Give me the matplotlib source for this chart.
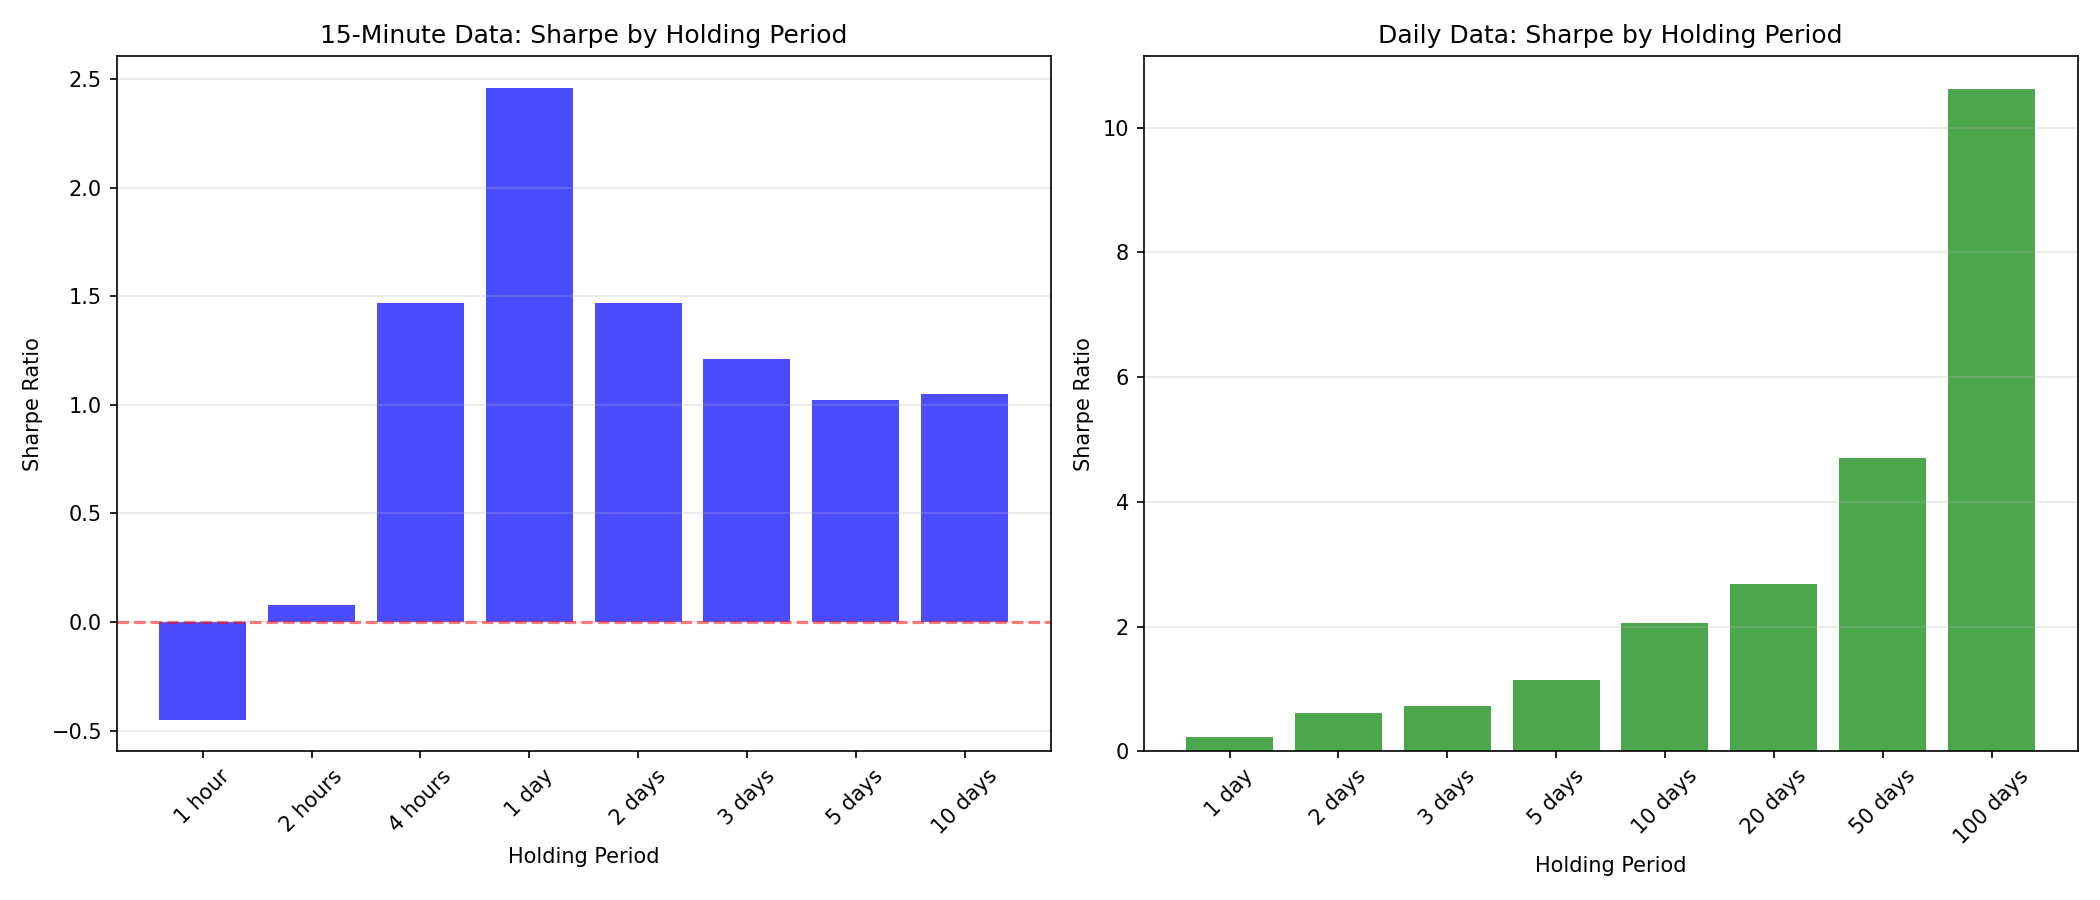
import matplotlib
matplotlib.use("Agg")
import matplotlib.pyplot as plt

# 15-minute data
intraday_periods = ["1 hour", "2 hours", "4 hours", "1 day", "2 days", "3 days", "5 days", "10 days"]
intraday_sharpe = [-0.45, 0.08, 1.47, 2.46, 1.47, 1.21, 1.02, 1.05]

# daily data
daily_periods = ["1 day", "2 days", "3 days", "5 days", "10 days", "20 days", "50 days", "100 days"]
daily_sharpe = [0.23, 0.62, 0.73, 1.15, 2.05, 2.69, 4.71, 10.62]

fig, (ax1, ax2) = plt.subplots(1, 2, figsize=(14, 6))

ax1.bar(intraday_periods, intraday_sharpe, color="blue", alpha=0.7)
ax1.axhline(0, color="red", linestyle="--", alpha=0.5)
ax1.set_title("15-Minute Data: Sharpe by Holding Period")
ax1.set_xlabel("Holding Period")
ax1.set_ylabel("Sharpe Ratio")
ax1.tick_params(axis="x", rotation=45)
ax1.grid(True, axis="y", alpha=0.3)

ax2.bar(daily_periods, daily_sharpe, color="green", alpha=0.7)
ax2.set_title("Daily Data: Sharpe by Holding Period")
ax2.set_xlabel("Holding Period")
ax2.set_ylabel("Sharpe Ratio")
ax2.tick_params(axis="x", rotation=45)
ax2.grid(True, axis="y", alpha=0.3)

plt.tight_layout()
plt.savefig("out.png", dpi=150)
plt.close()
